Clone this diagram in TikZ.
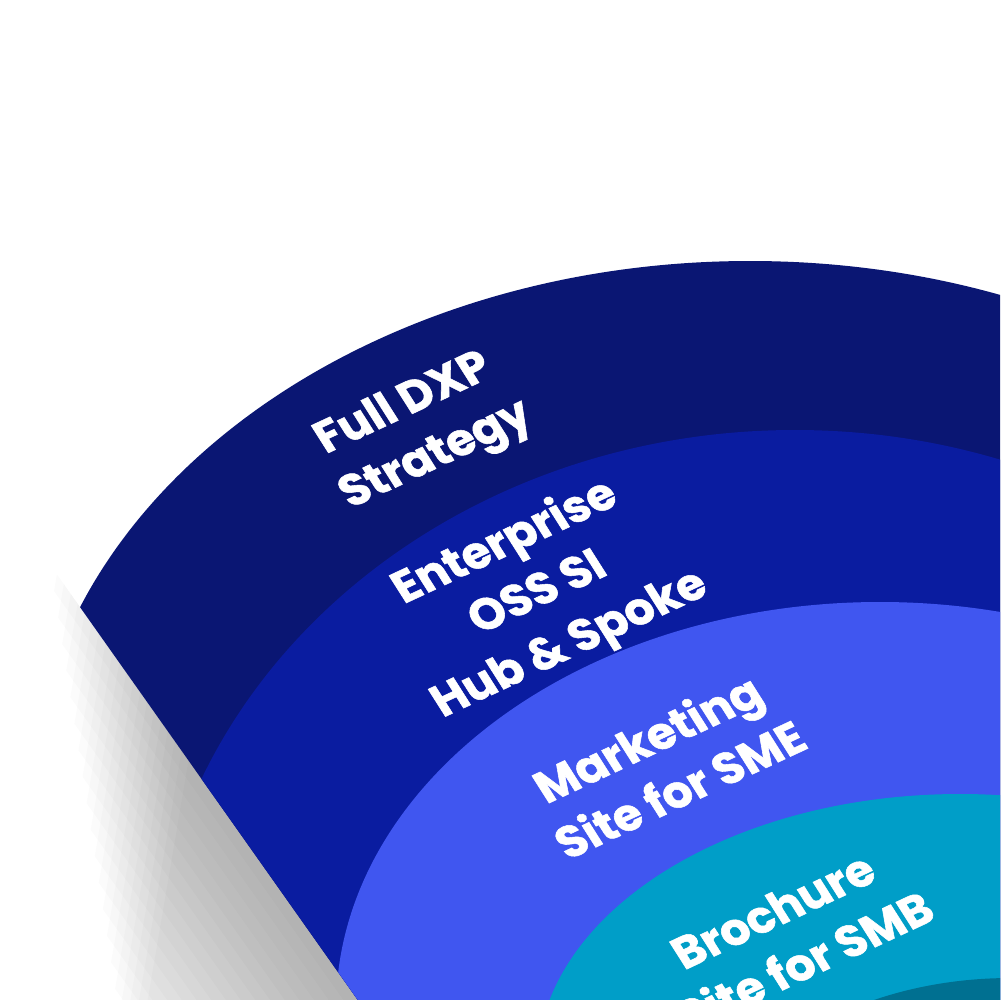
\documentclass[tikz,border=0pt]{standalone}
\usepackage{fontspec}
\newfontfamily\ringfont{Poppins}[BoldFeatures={FakeBold=1.2}]
\usepackage{tikz}
\usetikzlibrary{calc}

\definecolor{dxpnavy}{HTML}{0A1673}
\definecolor{ossblue}{HTML}{0A1CA0}
\definecolor{smeblue}{HTML}{4056F0}
\definecolor{smbteal}{HTML}{009EC8}
\definecolor{coreteal}{HTML}{007091}

\begin{document}
\begin{tikzpicture}[
  x=0.1mm, y=-0.1mm,
  ringlabel/.style={align=center, text=white, inner sep=0pt, rotate=25, xslant=-0.13,
    font=\ringfont\bfseries\fontsize{13}{17}\selectfont},
  shadowlayer/.style={fill=black, fill opacity=0.017}
]
  \useasboundingbox (0,0) rectangle (1000,1000);
  \fill[white] (0,0) rectangle (1000,1000);
  \coordinate (cut top) at (80,607);
  \coordinate (cut bottom) at (358,1000);

  \begin{scope}
    \clip (0,0) rectangle (1000,1000);
    % soft shadow along the cut edge
    \begin{scope}[shift={(cut top)}, rotate=35.3]
      \foreach \k in {1,...,20}
        \fill[shadowlayer] (0,-52+12*\k) -- (-12*\k,-52+24*\k) -- (-12*\k,700) -- (0,700) -- cycle;
    \end{scope}
    % the rings, cut along the edge
    \begin{scope}
      \clip (-200,211) -- (420,1088) -- (1100,1088) -- (1100,-100) -- (-200,-100) -- cycle;
      \fill[dxpnavy] (750,808) ellipse [x radius=720, y radius=547];
      \fill[ossblue] (795,1004) ellipse [x radius=645, y radius=574];
      \fill[smeblue] (880,1009) ellipse [x radius=544, y radius=407];
      \fill[smbteal] (960,1066) ellipse [x radius=423, y radius=272];
      \fill[coreteal] (1011,1178) ellipse [x radius=300, y radius=200];
    \end{scope}
  \end{scope}

  \node[ringlabel] (full dxp) at (421,431) {Full DXP\\Strategy};
  \node[ringlabel] (enterprise) at (538,594) {Enterprise\\OSS SI\\Hub \& Spoke};
  \node[ringlabel] (marketing) at (663,763) {Marketing\\Site for SME};
  \node[ringlabel] (brochure) at (789,936) {Brochure\\Site for SMB};
\end{tikzpicture}
\end{document}
